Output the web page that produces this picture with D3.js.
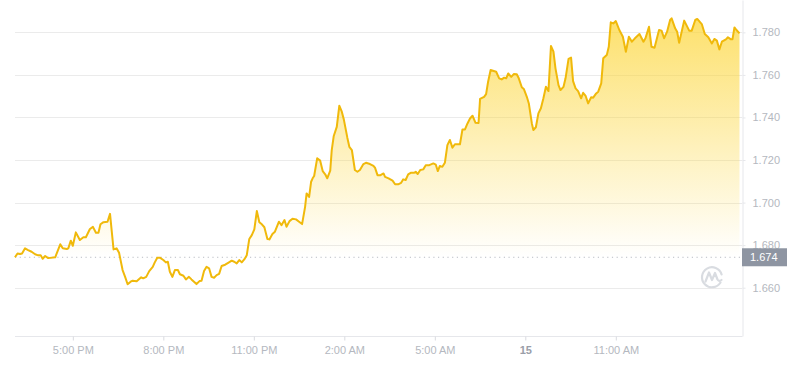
<!DOCTYPE html>
<html>
<head>
<meta charset="utf-8">
<script src="https://cdn.jsdelivr.net/npm/d3@7"></script>
<style>
body { margin: 0; background: #fff; }
text { font-family: "Liberation Sans", Arial, sans-serif; }
</style>
</head>
<body>
<svg id="chart" width="800" height="370"></svg>
<script>
// data: minutes after the first sample, and price
const startTime = "2024-10-14 15:05";
const minutes = [0,5,10,14,20,26,33,40,46,51,55,60,66,80,90,95,103,106,111,115,121,129,136,141,149,155,161,166,170,176,184,189,196,202,207,214,219,224,230,234,242,251,255,261,267,274,278,283,288,295,300,304,308,313,318,324,328,335,340,346,351,361,367,371,376,381,386,391,396,401,406,411,418,424,431,436,441,446,451,456,461,466,471,476,481,486,491,496,502,506,512,517,525,530,536,540,546,552,559,565,571,577,580,585,589,592,595,601,607,612,617,621,627,630,634,640,645,650,654,661,665,670,676,681,686,693,698,706,713,716,721,727,733,736,743,751,756,762,768,772,777,782,787,794,797,801,806,812,817,824,832,837,841,845,850,855,860,865,870,875,885,890,895,900,905,910,916,922,925,933,937,941,946,957,963,968,973,977,981,987,992,998,1002,1008,1012,1018,1022,1028,1031,1036,1041,1046,1051,1056,1061,1066,1071,1075,1081,1085,1091,1095,1101,1106,1110,1115,1120,1126,1130,1135,1140,1146,1150,1156,1160,1166,1170,1177,1181,1185,1190,1195,1202,1209,1215,1221,1227,1233,1242,1250,1254,1261,1266,1272,1281,1286,1291,1297,1303,1306,1313,1317,1321,1331,1341,1346,1353,1357,1366,1372,1379,1386,1391,1396,1401,1406,1414,1418,1424,1427,1431,1435,1441];
const prices = [1.6743,1.6761,1.6758,1.6761,1.6785,1.6777,1.6769,1.6757,1.6752,1.6753,1.6736,1.6749,1.6739,1.6743,1.6804,1.6785,1.6782,1.6785,1.6821,1.6797,1.6860,1.6824,1.6837,1.6837,1.6876,1.6886,1.6858,1.6858,1.6898,1.6908,1.6910,1.6947,1.6780,1.6785,1.6764,1.6683,1.6651,1.6616,1.6628,1.6633,1.6630,1.6649,1.6644,1.6651,1.6678,1.6698,1.6719,1.6741,1.6741,1.6730,1.6719,1.6722,1.6675,1.6651,1.6683,1.6683,1.6663,1.6656,1.6639,1.6651,1.6639,1.6617,1.6631,1.6633,1.6678,1.6698,1.6691,1.6651,1.6647,1.6659,1.6665,1.6702,1.6708,1.6717,1.6727,1.6722,1.6714,1.6730,1.6719,1.6733,1.6753,1.6829,1.6847,1.6874,1.6960,1.6908,1.6898,1.6884,1.6829,1.6827,1.6852,1.6863,1.6910,1.6894,1.6918,1.6886,1.6913,1.6924,1.6921,1.6910,1.6899,1.6980,1.7043,1.7027,1.7098,1.7114,1.7125,1.7208,1.7197,1.7148,1.7133,1.7114,1.7150,1.7247,1.7313,1.7356,1.7455,1.7427,1.7391,1.7305,1.7262,1.7247,1.7153,1.7145,1.7153,1.7181,1.7187,1.7181,1.7172,1.7164,1.7129,1.7129,1.7137,1.7121,1.7114,1.7103,1.7086,1.7086,1.7093,1.7109,1.7106,1.7133,1.7140,1.7140,1.7145,1.7134,1.7153,1.7156,1.7175,1.7176,1.7184,1.7178,1.7148,1.7172,1.7168,1.7187,1.7270,1.7294,1.7258,1.7274,1.7274,1.7344,1.7344,1.7372,1.7395,1.7408,1.7375,1.7374,1.7487,1.7497,1.7510,1.7568,1.7623,1.7615,1.7584,1.7579,1.7587,1.7584,1.7607,1.7591,1.7604,1.7603,1.7584,1.7542,1.7534,1.7497,1.7466,1.7372,1.7341,1.7354,1.7419,1.7443,1.7490,1.7544,1.7524,1.7736,1.7709,1.7631,1.7552,1.7529,1.7544,1.7584,1.7675,1.7681,1.7571,1.7537,1.7524,1.7490,1.7516,1.7501,1.7466,1.7495,1.7493,1.7513,1.7521,1.7560,1.7678,1.7693,1.7732,1.7847,1.7842,1.7853,1.7811,1.7779,1.7709,1.7779,1.7756,1.7772,1.7792,1.7756,1.7772,1.7826,1.7732,1.7728,1.7811,1.7808,1.7772,1.7803,1.7858,1.7866,1.7819,1.7803,1.7751,1.7855,1.7808,1.7808,1.7858,1.7863,1.7839,1.7792,1.7777,1.7748,1.7769,1.7761,1.7720,1.7756,1.7767,1.7777,1.7767,1.7767,1.7823,1.7811,1.7795];

const openPrice = 1.6743;
const yTicks = [1.660, 1.680, 1.700, 1.720, 1.740, 1.760, 1.780];
const xTickTimes = ["2024-10-14 17:00", "2024-10-14 20:00", "2024-10-14 23:00", "2024-10-15 02:00", "2024-10-15 05:00", "2024-10-15 08:00", "2024-10-15 11:00"];
const xTickLabels = ["5:00 PM", "8:00 PM", "11:00 PM", "2:00 AM", "5:00 AM", "15", "11:00 AM"];

const svg = d3.select("#chart");
const width = +svg.attr("width");

const plotLeft = 15, plotRight = 741, axisX = 742, axisY = 336;

const parseTime = d3.timeParse("%Y-%m-%d %H:%M");
const t0 = parseTime(startTime);
const data = minutes.map((m, i) => ({ date: d3.timeMinute.offset(t0, m), price: prices[i] }));

// scales
const x = d3.scaleTime()
    .domain([t0, d3.timeMinute.offset(t0, 1444)])
    .range([plotLeft, plotRight]);

const y = d3.scaleLinear()
    .domain([1.6373, 1.7952])
    .range([axisY, 0]);

// gradient fill
const defs = svg.append("defs");
const grad = defs.append("linearGradient")
    .attr("id", "fillGrad")
    .attr("gradientUnits", "userSpaceOnUse")
    .attr("x1", 0).attr("x2", 0)
    .attr("y1", y(1.786)).attr("y2", y(openPrice));
grad.append("stop").attr("offset", 0).attr("stop-color", "#fcd535").attr("stop-opacity", 0.72);
grad.append("stop").attr("offset", 1).attr("stop-color", "#fcd535").attr("stop-opacity", 0);

// grid lines
svg.append("g")
    .selectAll("line")
    .data(yTicks)
    .enter()
    .append("line")
    .attr("x1", plotLeft)
    .attr("x2", axisX)
    .attr("y1", d => Math.round(y(d)) + 0.5)
    .attr("y2", d => Math.round(y(d)) + 0.5)
    .attr("stroke", "#ebebeb")
    .attr("stroke-width", 1);

// area above the opening price
const area = d3.area()
    .x(d => x(d.date))
    .y0(y(openPrice))
    .y1(d => y(d.price));

svg.append("path")
    .datum(data)
    .attr("d", area)
    .attr("fill", "url(#fillGrad)");

// opening price line (dotted)
svg.append("line")
    .attr("x1", plotLeft)
    .attr("x2", axisX)
    .attr("y1", y(openPrice))
    .attr("y2", y(openPrice))
    .attr("stroke", "#b9bcc3")
    .attr("stroke-width", 1)
    .attr("stroke-dasharray", "1.2,3.5");

// price line
const line = d3.line()
    .x(d => x(d.date))
    .y(d => y(d.price));

svg.append("path")
    .datum(data)
    .attr("d", line)
    .attr("fill", "none")
    .attr("stroke", "#f0b90b")
    .attr("stroke-width", 2)
    .attr("stroke-linejoin", "round");

// watermark logo
const logo = svg.append("g")
    .attr("transform", "translate(712,277)")
    .attr("fill", "none")
    .attr("stroke", "#d9dce1")
    .attr("stroke-width", 2.2)
    .attr("stroke-linecap", "round")
    .attr("stroke-linejoin", "round");
logo.append("path")
    .attr("d", "M 8.5 5.5 A 10 10 0 1 1 9.6 -2.5");
logo.append("path")
    .attr("d", "M -6.5 4.5 L -3 -4.5 L 0 3 L 3 -4 L 5.5 2.5 Q 7 5 9.5 3");

// axes
const yAxis = d3.axisRight(y)
    .tickValues(yTicks)
    .tickSize(3)
    .tickSizeOuter(0)
    .tickPadding(7)
    .tickFormat(d3.format(".3f"));

const gy = svg.append("g")
    .attr("transform", `translate(${axisX + 0.5},0)`)
    .call(yAxis);
gy.select(".domain").attr("stroke", "#e6e7eb");
gy.selectAll(".tick line").attr("stroke", "#e6e7eb");
gy.selectAll(".tick text")
    .attr("fill", "#b4b8c0")
    .attr("font-size", 11)
    .attr("font-family", "'Liberation Sans', Arial, sans-serif");

const xAxis = d3.axisBottom(x)
    .tickValues(xTickTimes.map(parseTime))
    .tickSize(4)
    .tickSizeOuter(0)
    .tickPadding(6)
    .tickFormat((d, i) => xTickLabels[i]);

const gx = svg.append("g")
    .attr("transform", `translate(0,${axisY + 0.5})`)
    .call(xAxis);
gx.select(".domain")
    .attr("d", `M${plotLeft},0H${axisX + 0.5}`)
    .attr("stroke", "#e6e7eb");
gx.selectAll(".tick line").attr("stroke", "#d9dbe0");
gx.selectAll(".tick text")
    .attr("fill", "#b4b8c0")
    .attr("font-size", 11)
    .attr("font-family", "'Liberation Sans', Arial, sans-serif")
    .attr("font-weight", (d, i) => xTickLabels[i] === "15" ? "bold" : null)
    .attr("fill", (d, i) => xTickLabels[i] === "15" ? "#9a9ea8" : "#b4b8c0");

// opening price tag
const tag = svg.append("g")
    .attr("transform", `translate(${axisX},${y(openPrice)})`);
tag.append("rect")
    .attr("x", 0)
    .attr("y", -9)
    .attr("width", 45)
    .attr("height", 18)
    .attr("fill", "#8e95a2");
tag.append("text")
    .attr("x", 8)
    .attr("y", 0)
    .attr("dy", "0.35em")
    .attr("fill", "#fff")
    .attr("font-size", 11)
    .text(d3.format(".3f")(openPrice));
</script>
</body>
</html>
